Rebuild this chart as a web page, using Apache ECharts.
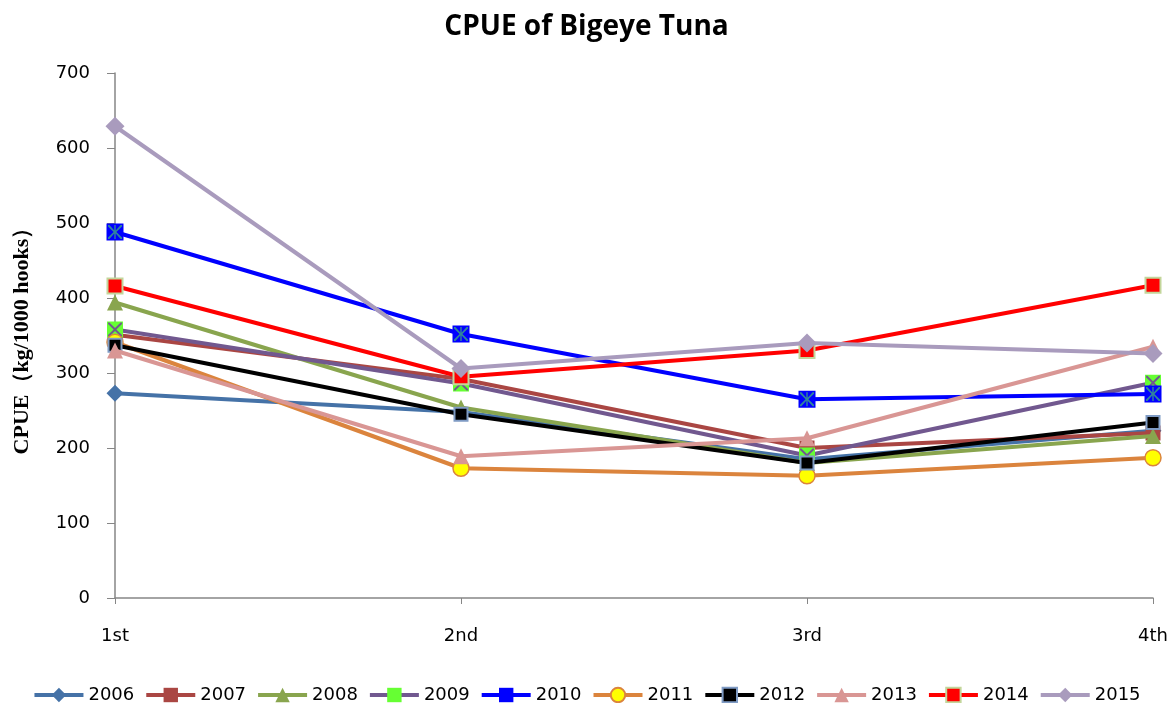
<!DOCTYPE html>
<html><head><meta charset="utf-8">
<script src="https://cdn.jsdelivr.net/npm/echarts@6/dist/echarts.min.js"></script>
<style>html,body{margin:0;padding:0;background:#fff}#c{width:1173px;height:703px}</style>
</head><body><div id="c"></div>
<script>
const categories = ['1st', '2nd', '3rd', '4th'];
const years = ['2006','2007','2008','2009','2010','2011','2012','2013','2014','2015'];
const v2006 = [273, 248, 185, 223];
const v2007 = [351, 292, 200, 220];
const v2008 = [394, 254, 180, 216];
const v2009 = [358, 286, 190, 287];
const v2010 = [488, 352, 265, 272];
const v2011 = [341, 173, 163, 187];
const v2012 = [337, 245, 180, 234];
const v2013 = [330, 189, 213, 335];
const v2014 = [416, 295, 330, 417];
const v2015 = [629, 306, 340, 326];
const yTicks = [0, 100, 200, 300, 400, 500, 600, 700];

const values = [v2006, v2007, v2008, v2009, v2010, v2011, v2012, v2013, v2014, v2015];
const lineColors = ['#4572A7','#AA4643','#89A54E','#71588F','#0000FF','#DB843D','#000000','#D99694','#FF0000','#A99BBD'];
const markers = [
  {symbol:'diamond', size:17, fill:'#4572A7', border:'#4572A7', bw:0},
  {symbol:'rect', size:15, fill:'#AA4643', border:'#AA4643', bw:0},
  {symbol:'triangle', size:16, fill:'#89A54E', border:'#89A54E', bw:0},
  {symbol:'rect', size:16, fill:'#66FF33', border:'#66FF33', bw:0},
  {symbol:'rect', size:17, fill:'#0000FF', border:'#0000FF', bw:0},
  {symbol:'circle', size:16, fill:'#FFFF00', border:'#DB843D', bw:1.5},
  {symbol:'rect', size:13, fill:'#000000', border:'#7F9BC4', bw:2},
  {symbol:'triangle', size:16, fill:'#D99694', border:'#D99694', bw:0},
  {symbol:'rect', size:15, fill:'#FF0000', border:'#C3D69B', bw:2},
  {symbol:'diamond', size:19, fill:'#A99BBD', border:'#A99BBD', bw:0}
];
const xPath = 'path://M0,0 L2,0 L10,8 L18,0 L20,0 L20,2 L12,10 L20,18 L20,20 L18,20 L10,12 L2,20 L0,20 L0,18 L8,10 L0,2 Z';
const starPath = 'path://M0,0 L2,0 L9,8 L9,0 L11,0 L11,8 L18,0 L20,0 L20,2 L12,10 L20,18 L20,20 L18,20 L11,12 L11,20 L9,20 L9,12 L2,20 L0,20 L0,18 L8,10 L0,2 Z';

const series = years.map((y, i) => ({
  name: y, type: 'line', data: values[i],
  symbol: markers[i].symbol, symbolSize: markers[i].size,
  lineStyle: {color: lineColors[i], width: 4},
  itemStyle: {color: markers[i].fill, borderColor: markers[i].border, borderWidth: markers[i].bw},
  z: 2 + i * 0.01,
  emphasis: {disabled: true}
}));
series.push({name:'2009x', type:'line', data: v2009, symbol: xPath, symbolSize: 14,
  lineStyle:{opacity:0}, itemStyle:{color:'#71588F'}, z: 2.035, emphasis:{disabled:true}});
series.push({name:'2010x', type:'line', data: v2010, symbol: starPath, symbolSize: 14,
  lineStyle:{opacity:0}, itemStyle:{color:'#31859C'}, z: 2.045, emphasis:{disabled:true}});

const chart = echarts.init(document.getElementById('c'), null, {renderer:'canvas'});
chart.setOption({
  animation: false,
  backgroundColor: '#fff',
  title: {text: 'CPUE of Bigeye Tuna', left: 'center', top: 8,
    textStyle: {fontFamily: 'Open Sans', fontWeight: 'bold', fontSize: 28, color: '#000'}},
  grid: {left: 115, right: 20, top: 73, bottom: 105, containLabel: false},
  legend: {
    data: years, top: 681, left: 'center', itemWidth: 49, itemHeight: 18, itemGap: 10,
    lineStyle: {width: 4},
    textStyle: {fontFamily: 'DejaVu Sans', fontSize: 18, color: '#000'}
  },
  xAxis: {
    type: 'category', data: categories, boundaryGap: false,
    axisLine: {lineStyle: {color: '#868686', width: 1.5}},
    axisTick: {show: true, alignWithLabel: true, length: 6, lineStyle: {color: '#868686'}},
    axisLabel: {margin: 29, fontFamily: 'DejaVu Sans', fontSize: 18, color: '#000'},
    splitLine: {show: false}
  },
  yAxis: {
    type: 'value', min: yTicks[0], max: yTicks[yTicks.length-1], interval: 100,
    name: 'CPUE（kg/1000 hooks）', nameLocation: 'middle', nameGap: 82,
    nameTextStyle: {fontFamily: 'Liberation Serif', fontWeight: 'bold', fontSize: 22, color: '#000'},
    axisLine: {show: true, lineStyle: {color: '#868686', width: 1.5}},
    axisTick: {show: true, length: 8, lineStyle: {color: '#868686'}},
    axisLabel: {margin: 25, fontFamily: 'DejaVu Sans', fontSize: 18, color: '#000'},
    splitLine: {show: false}
  },
  series: series
});
</script></body></html>
